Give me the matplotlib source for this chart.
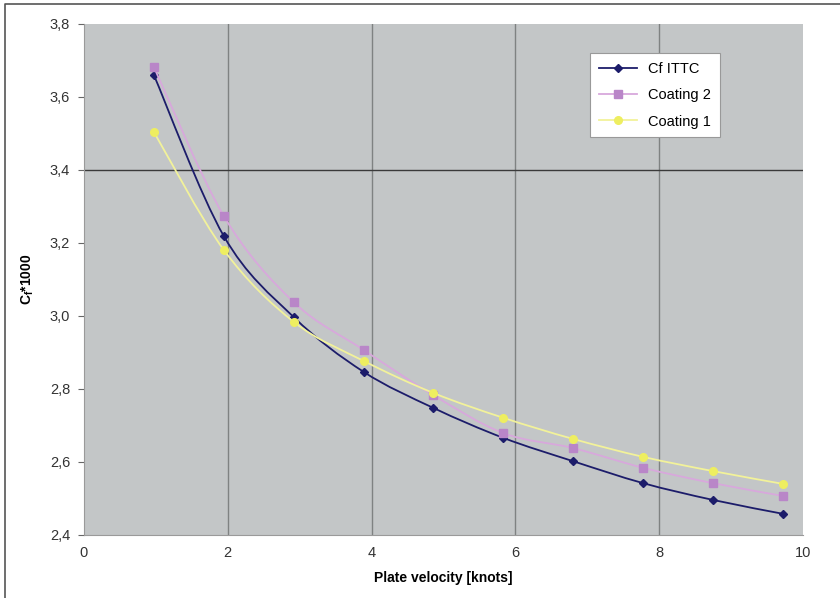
import numpy as np
import matplotlib
matplotlib.use("Agg")
import matplotlib.pyplot as plt
from matplotlib.path import Path
from matplotlib.patches import PathPatch
from matplotlib.lines import Line2D

plt.rcParams['font.family'] = ['Liberation Sans', 'DejaVu Sans']
plt.rcParams['mathtext.fontset'] = 'custom'
plt.rcParams['mathtext.bf'] = 'Liberation Sans:bold'
plt.rcParams['mathtext.rm'] = 'Liberation Sans'

# plate velocity in knots (0.5 ... 5 m/s)
velocity = [0.972, 1.944, 2.916, 3.888, 4.860, 5.832, 6.804, 7.776, 8.748, 9.720]
cf_ittc = [3.660, 3.219, 2.997, 2.847, 2.748, 2.666, 2.602, 2.542, 2.496, 2.458]
coating2 = [3.682, 3.274, 3.038, 2.907, 2.783, 2.679, 2.638, 2.584, 2.542, 2.507]
coating1 = [3.504, 3.181, 2.984, 2.877, 2.789, 2.721, 2.663, 2.614, 2.575, 2.540]

x_ticks = [0, 2, 4, 6, 8, 10]
y_ticks = [2.4, 2.6, 2.8, 3.0, 3.2, 3.4, 3.6, 3.8]


def smooth_path(xs, ys, t=1/6):
    # Excel-like smoothed line: Catmull-Rom as cubic Bezier segments
    xs = np.asarray(xs); ys = np.asarray(ys)
    verts = [(xs[0], ys[0])]
    codes = [Path.MOVETO]
    n = len(xs)
    for i in range(n - 1):
        i0 = max(i - 1, 0); i3 = min(i + 2, n - 1)
        c1 = (xs[i] + (xs[i + 1] - xs[i0]) * t, ys[i] + (ys[i + 1] - ys[i0]) * t)
        c2 = (xs[i + 1] - (xs[i3] - xs[i]) * t, ys[i + 1] - (ys[i3] - ys[i]) * t)
        verts += [c1, c2, (xs[i + 1], ys[i + 1])]
        codes += [Path.CURVE4] * 3
    return Path(verts, codes)


fig = plt.figure(figsize=(8.4, 5.98), dpi=100)
ax = fig.add_axes([0.1, 0.1054, 0.856, 0.8545])
ax.set_facecolor('#c3c6c7')

series = [
    ("Cf ITTC", cf_ittc, '#1c1c6a', '#1c1c6a', 'D', 4.5),
    ("Coating 2", coating2, '#d8a8dc', '#b986c8', 's', 6),
    ("Coating 1", coating1, '#f2f29a', '#eeee60', 'o', 5.5),
]
for k, (name, ys, lc, mc, mk, ms) in enumerate(series):
    ax.add_patch(PathPatch(smooth_path(velocity, ys), facecolor='none', edgecolor=lc, lw=1.3, zorder=3 + k))
    ax.plot(velocity, ys, ls='none', marker=mk, ms=ms, color=mc, zorder=3.5 + k)
    ax.plot([], [], color=lc, lw=1.3, marker=mk, ms=ms, mfc=mc, mec=mc, label=name)

for xv in x_ticks[1:-1]:
    ax.axvline(xv, color='#7f8282', lw=1, zorder=1)
ax.axhline(3.4, color='#3a3a3a', lw=1, zorder=1)

ax.set_xlim(0, 10)
ax.set_ylim(2.4, 3.8)
ax.set_xticks(x_ticks)
ax.set_yticks(y_ticks)
ax.set_yticklabels([f"{v:.1f}".replace('.', ',') for v in y_ticks])
ax.tick_params(axis='y', length=4, color='#666666', labelsize=10.5, labelcolor='#333333', pad=6)
ax.tick_params(axis='x', length=0, labelsize=10.5, labelcolor='#333333', pad=8)
for s in ['top', 'right']:
    ax.spines[s].set_visible(False)
for s in ['left', 'bottom']:
    ax.spines[s].set_color('#9a9a9a')

ax.set_xlabel("Plate velocity [knots]", fontsize=10, fontweight='bold', labelpad=8)
ax.set_ylabel(r"C$_\mathbf{f}$*1000", fontsize=10, fontweight='bold', labelpad=10)

leg = ax.legend(loc='upper left', bbox_to_anchor=(590 / 840, 1 - 53 / 598), bbox_transform=fig.transFigure,
                borderaxespad=0, fancybox=False, framealpha=1, edgecolor='#999999', fontsize=10.5,
                handlelength=2.6, labelspacing=0.85, borderpad=0.6)
leg.get_frame().set_linewidth(0.8)

# scan frame: only top and left edges are visible
fig.lines.append(Line2D([0.006, 0.006, 1.0], [0.0, 0.993, 0.993], transform=fig.transFigure,
                        color='#555555', lw=1.2))

fig.savefig("out.png", dpi=100)
